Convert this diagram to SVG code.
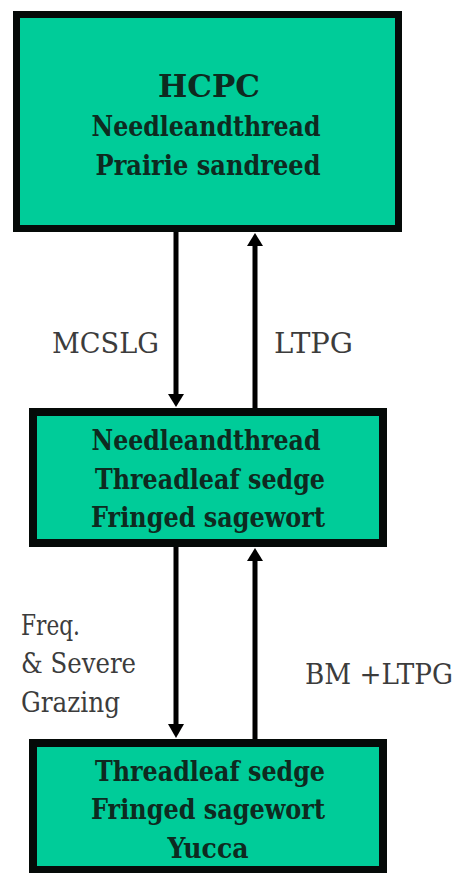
<svg xmlns="http://www.w3.org/2000/svg" width="462" height="873" viewBox="0 0 462 873">
<style>
.box{fill:#00cc99;stroke:#050a08;}
.nt{font-family:'DejaVu Serif',serif;font-weight:bold;font-size:27px;fill:#0e2a20;text-anchor:middle;}
.lb{font-family:'DejaVu Serif',serif;font-size:28px;fill:#3c3c3c;}
.ln{stroke:#000;stroke-width:5;fill:none;}
.ah{fill:#000;}
</style>
<rect width="462" height="873" fill="#ffffff"/>
<g id="node-hcpc">
<rect class="box" x="16.5" y="14.5" width="382" height="214" stroke-width="7"/>
<text class="nt" x="209" y="97" style="font-size:31px" textLength="102" lengthAdjust="spacingAndGlyphs">HCPC</text>
<text class="nt" x="206" y="136" textLength="229" lengthAdjust="spacingAndGlyphs">Needleandthread</text>
<text class="nt" x="208" y="175" textLength="225" lengthAdjust="spacingAndGlyphs">Prairie sandreed</text>
</g>
<g id="node-mid">
<rect class="box" x="33" y="412" width="350" height="131" stroke-width="8"/>
<text class="nt" x="206" y="450" textLength="229" lengthAdjust="spacingAndGlyphs">Needleandthread</text>
<text class="nt" x="210" y="489" textLength="230" lengthAdjust="spacingAndGlyphs">Threadleaf sedge</text>
<text class="nt" x="208" y="527" textLength="234" lengthAdjust="spacingAndGlyphs">Fringed sagewort</text>
</g>
<g id="node-bottom">
<rect class="box" x="33" y="743" width="350" height="127" stroke-width="8"/>
<text class="nt" x="210" y="781" textLength="230" lengthAdjust="spacingAndGlyphs">Threadleaf sedge</text>
<text class="nt" x="208" y="819" textLength="234" lengthAdjust="spacingAndGlyphs">Fringed sagewort</text>
<text class="nt" x="208" y="858" textLength="81" lengthAdjust="spacingAndGlyphs">Yucca</text>
</g>
<g id="connectors">
<line class="ln" x1="176" y1="232" x2="176" y2="396"/>
<polygon class="ah" points="168,394 184,394 176,407"/>
<line class="ln" x1="255" y1="408" x2="255" y2="244"/>
<polygon class="ah" points="247,246 263,246 255,233"/>
<line class="ln" x1="176" y1="547" x2="176" y2="726"/>
<polygon class="ah" points="168,724 184,724 176,738"/>
<line class="ln" x1="255" y1="739" x2="255" y2="559"/>
<polygon class="ah" points="247,561 263,561 255,548"/>
<text class="lb" x="52" y="353" textLength="107" lengthAdjust="spacingAndGlyphs">MCSLG</text>
<text class="lb" x="274" y="353" textLength="79" lengthAdjust="spacingAndGlyphs">LTPG</text>
<text class="lb" x="21" y="635" textLength="59" lengthAdjust="spacingAndGlyphs">Freq.</text>
<text class="lb" x="21" y="673" textLength="115" lengthAdjust="spacingAndGlyphs">&amp; Severe</text>
<text class="lb" x="21" y="712" textLength="99" lengthAdjust="spacingAndGlyphs">Grazing</text>
<text class="lb" x="305" y="684" textLength="148" lengthAdjust="spacingAndGlyphs">BM +LTPG</text>
</g>
</svg>
